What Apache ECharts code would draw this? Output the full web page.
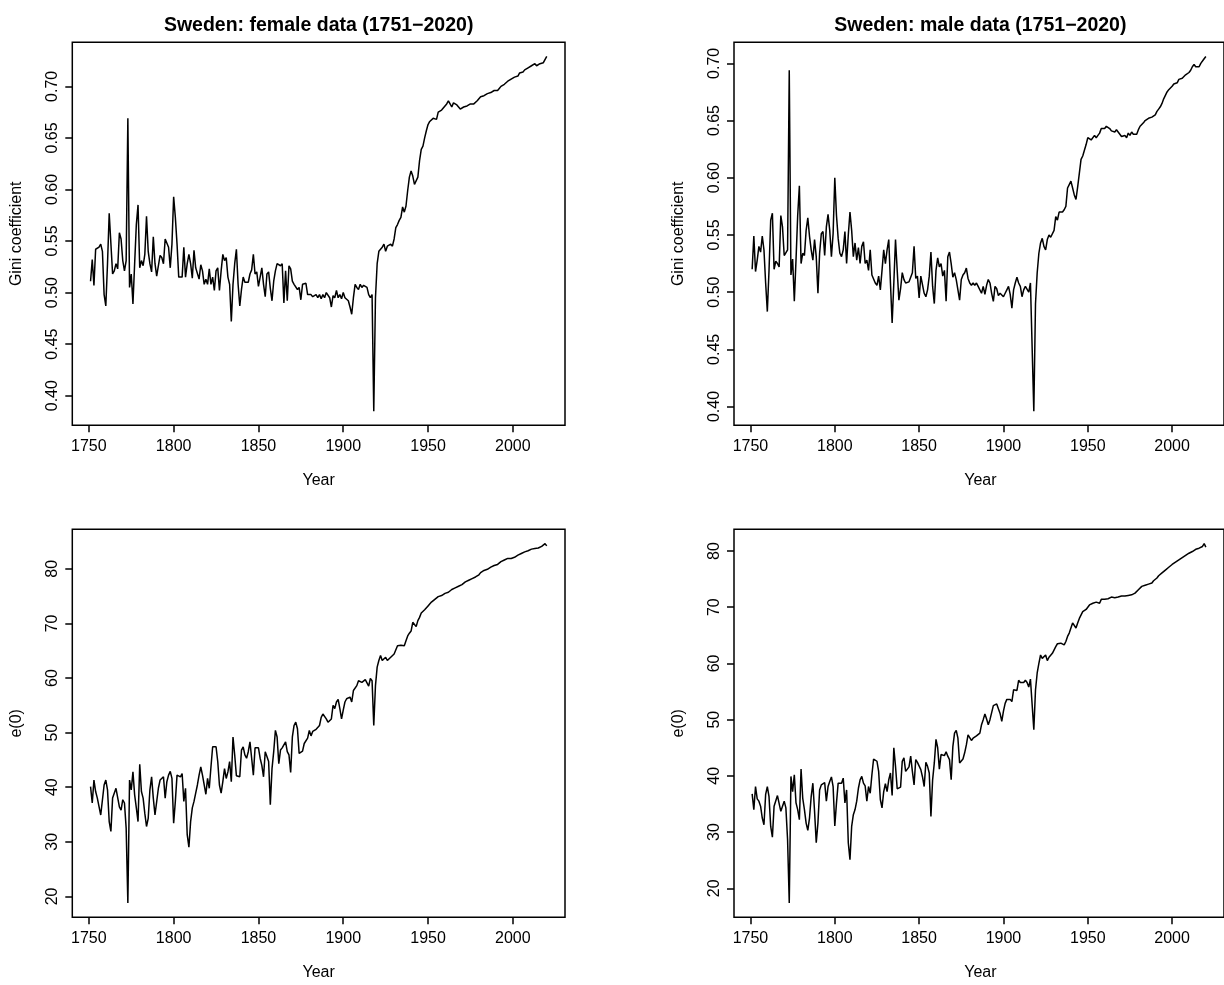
<!DOCTYPE html>
<html><head><meta charset="utf-8">
<script src="https://cdn.jsdelivr.net/npm/echarts@6/dist/echarts.min.js"></script>
<style>html,body{margin:0;padding:0;background:#fff}#c{width:1224px;height:985px}</style>
</head><body><div id="c"></div>
<script>
const firstYear = 1751, lastYear = 2020;
const yearTicks = [1750, 1800, 1850, 1900, 1950, 2000];
const giniTicks = [0.40, 0.45, 0.50, 0.55, 0.60, 0.65, 0.70];
const e0Ticks = [20, 30, 40, 50, 60, 70, 80];
const titles = ['Sweden: female data (1751\u22122020)', 'Sweden: male data (1751\u22122020)'];
const xName = 'Year';
const yNames = ['Gini coefficient', 'Gini coefficient', 'e(0)', 'e(0)'];

const giniFemale = [
0.511,0.532,0.507,0.542,0.543,0.544,0.547,0.540,0.498,0.487,
0.528,0.577,0.578,0.518,0.521,0.528,0.523,0.558,0.552,0.531,
0.521,0.531,0.669,0.505,0.518,0.489,0.528,0.566,0.585,0.524,
0.531,0.526,0.537,0.574,0.540,0.528,0.520,0.554,0.528,0.516,
0.516,0.536,0.534,0.528,0.552,0.553,0.544,0.524,0.547,0.593,
0.573,0.547,0.515,0.514,0.515,0.544,0.515,0.528,0.537,0.528,
0.514,0.541,0.524,0.524,0.513,0.527,0.521,0.508,0.513,0.508,
0.523,0.508,0.515,0.502,0.521,0.524,0.502,0.521,0.537,0.531,
0.534,0.515,0.508,0.472,0.508,0.528,0.542,0.508,0.487,0.503,
0.515,0.510,0.510,0.510,0.518,0.522,0.537,0.518,0.520,0.506,
0.515,0.524,0.508,0.496,0.518,0.520,0.504,0.492,0.511,0.521,
0.528,0.529,0.526,0.528,0.490,0.521,0.492,0.526,0.523,0.511,
0.508,0.507,0.503,0.505,0.493,0.508,0.507,0.509,0.498,0.497,
0.498,0.496,0.496,0.498,0.495,0.498,0.494,0.498,0.495,0.500,
0.501,0.495,0.486,0.497,0.495,0.502,0.495,0.498,0.494,0.500,
0.495,0.494,0.492,0.486,0.479,0.495,0.508,0.505,0.503,0.508,
0.505,0.507,0.508,0.505,0.498,0.495,0.498,0.385,0.495,0.528,
0.540,0.542,0.544,0.547,0.540,0.545,0.544,0.547,0.545,0.552,
0.563,0.566,0.570,0.573,0.583,0.578,0.584,0.599,0.612,0.618,
0.613,0.605,0.604,0.612,0.628,0.639,0.642,0.650,0.657,0.663,
0.666,0.667,0.669,0.670,0.668,0.675,0.676,0.677,0.679,0.680,
0.683,0.686,0.683,0.680,0.684,0.683,0.682,0.680,0.678,0.677,
0.680,0.679,0.681,0.680,0.683,0.684,0.683,0.684,0.686,0.688,
0.690,0.689,0.691,0.690,0.693,0.692,0.694,0.693,0.696,0.696,
0.696,0.698,0.700,0.699,0.702,0.703,0.705,0.705,0.707,0.706,
0.709,0.709,0.710,0.713,0.712,0.714,0.716,0.715,0.718,0.718,
0.720,0.719,0.722,0.720,0.721,0.722,0.723,0.723,0.724,0.729];

const giniMale = [
0.520,0.549,0.518,0.528,0.540,0.535,0.549,0.537,0.508,0.483,
0.519,0.563,0.569,0.520,0.527,0.525,0.522,0.567,0.557,0.532,
0.532,0.537,0.694,0.515,0.529,0.492,0.528,0.567,0.593,0.525,
0.534,0.532,0.554,0.565,0.549,0.537,0.528,0.546,0.531,0.499,
0.534,0.551,0.553,0.532,0.557,0.568,0.554,0.531,0.551,0.600,
0.567,0.547,0.534,0.531,0.537,0.553,0.525,0.550,0.570,0.554,
0.531,0.543,0.528,0.539,0.525,0.540,0.544,0.525,0.528,0.519,
0.537,0.515,0.515,0.508,0.506,0.514,0.502,0.519,0.537,0.525,
0.537,0.546,0.508,0.473,0.508,0.546,0.519,0.493,0.503,0.517,
0.511,0.508,0.508,0.509,0.508,0.517,0.540,0.512,0.514,0.495,
0.514,0.514,0.499,0.496,0.502,0.514,0.535,0.505,0.490,0.519,
0.530,0.522,0.525,0.514,0.519,0.492,0.531,0.535,0.525,0.513,
0.517,0.511,0.502,0.493,0.511,0.515,0.517,0.521,0.512,0.508,
0.506,0.508,0.506,0.508,0.505,0.506,0.499,0.505,0.498,0.506,
0.511,0.508,0.499,0.492,0.505,0.503,0.497,0.499,0.500,0.496,
0.499,0.502,0.505,0.498,0.486,0.502,0.508,0.513,0.508,0.505,
0.496,0.502,0.505,0.506,0.500,0.508,0.508,0.396,0.490,0.517,
0.534,0.543,0.547,0.540,0.537,0.546,0.550,0.548,0.547,0.554,
0.566,0.563,0.570,0.569,0.570,0.572,0.575,0.591,0.594,0.597,
0.591,0.585,0.581,0.592,0.604,0.616,0.619,0.620,0.629,0.635,
0.636,0.633,0.632,0.637,0.635,0.637,0.639,0.643,0.644,0.643,
0.645,0.646,0.643,0.641,0.642,0.640,0.642,0.640,0.639,0.636,
0.635,0.637,0.635,0.639,0.637,0.640,0.638,0.637,0.638,0.642,
0.645,0.646,0.648,0.650,0.651,0.652,0.651,0.653,0.653,0.655,
0.658,0.660,0.662,0.665,0.669,0.672,0.675,0.677,0.678,0.680,
0.682,0.683,0.683,0.686,0.686,0.687,0.688,0.690,0.691,0.692,
0.694,0.697,0.699,0.697,0.696,0.697,0.700,0.702,0.701,0.706];

const e0Female = [
40.1,37.1,41.3,39.2,38.0,37.7,34.9,34.6,40.4,41.3,
39.5,33.7,31.9,38.0,38.0,39.8,40.1,36.4,35.8,37.7,
37.1,32.5,18.8,41.3,39.5,42.8,38.6,36.2,33.7,44.2,
39.2,38.0,35.2,32.8,34.3,39.5,41.9,38.0,34.9,35.2,
39.8,41.3,41.0,41.9,38.0,41.0,42.2,42.9,41.6,33.4,
37.4,42.2,41.9,41.9,42.5,37.4,39.8,31.3,29.0,33.7,
36.2,37.4,38.9,40.4,42.2,43.7,42.2,41.9,38.7,41.6,
39.8,43.7,47.4,47.4,47.4,44.7,40.4,38.9,41.0,43.4,
41.6,42.8,44.7,41.0,49.2,45.9,42.1,41.9,41.9,46.8,
47.4,45.9,45.3,46.5,48.3,45.3,42.2,47.2,47.4,47.2,
45.3,44.0,41.9,46.5,45.6,44.7,36.8,43.4,46.5,50.4,
49.2,44.3,46.8,47.2,47.4,48.3,46.5,45.9,42.7,49.2,
51.3,51.9,50.7,46.2,46.5,46.6,48.0,48.3,49.0,50.4,
49.4,50.2,50.4,50.6,50.7,51.3,52.8,53.4,53.3,52.5,
51.9,52.2,52.5,55.0,54.4,55.6,56.1,54.4,52.5,54.1,
55.6,56.2,56.3,56.5,55.6,57.7,57.9,58.6,59.5,59.3,
59.2,59.5,59.7,59.5,58.5,59.9,59.5,51.3,58.6,62.0,
63.2,64.1,63.2,63.5,63.8,63.2,62.9,63.8,64.1,64.4,
64.7,65.9,66.1,66.0,65.8,65.9,66.8,67.7,68.2,68.6,
70.2,69.9,69.4,70.5,71.1,71.9,72.1,72.5,72.7,73.2,
73.5,73.9,74.1,74.4,74.7,74.9,74.9,75.1,75.1,75.5,
75.6,75.7,75.9,76.2,76.3,76.5,76.5,76.8,76.8,77.1,
77.4,77.6,77.7,77.9,78.0,78.2,78.5,78.5,78.8,78.9,
79.3,79.6,79.7,79.9,79.9,80.1,80.3,80.3,80.6,80.7,
80.8,81.1,81.3,81.5,81.6,81.7,81.9,81.9,81.9,82.1,
82.1,82.3,82.5,82.7,82.8,82.9,83.1,83.2,83.3,83.4,
83.6,83.6,83.7,83.9,83.8,84.0,84.1,84.1,84.6,84.2];

const e0Male = [
36.8,34.0,38.1,35.9,35.5,34.6,32.5,31.3,36.7,38.1,
36.3,31.0,29.1,34.6,34.3,36.5,36.3,33.7,34.0,35.5,
34.3,28.7,17.4,39.9,37.2,40.2,35.2,34.0,32.2,41.2,
36.0,34.0,31.6,30.3,32.5,36.3,38.7,33.7,28.1,31.6,
37.5,38.4,38.6,38.8,35.5,38.1,39.0,39.8,38.1,31.1,
35.2,38.7,38.6,38.7,39.6,35.2,37.5,28.1,25.1,31.0,
33.1,34.0,35.5,37.8,39.3,39.9,38.7,38.2,35.5,38.1,
36.9,40.2,43.0,42.9,42.6,40.8,35.8,34.3,37.2,38.6,
37.2,39.3,40.5,36.5,45.0,41.7,37.7,37.5,38.0,42.6,
43.2,40.8,40.8,41.6,43.5,40.8,38.4,42.9,42.4,42.3,
41.1,39.8,38.1,42.4,41.7,40.5,32.8,39.3,42.3,46.5,
45.0,41.2,43.8,43.6,43.6,44.3,43.5,42.9,39.3,45.2,
47.6,48.1,46.7,42.3,42.6,43.0,44.1,45.5,47.3,47.1,
46.3,46.7,47.0,47.1,47.3,47.6,49.1,50.0,51.0,50.1,
49.1,50.0,50.0,52.5,52.2,52.8,53.0,51.1,49.7,51.5,
52.9,53.6,53.8,53.6,53.2,55.3,55.4,55.2,57.0,56.6,
56.5,56.6,57.0,56.6,55.8,57.2,57.2,48.2,55.3,58.3,
60.0,61.5,60.9,61.2,61.5,60.5,61.1,61.3,61.8,62.1,
63.0,63.5,63.6,63.6,63.5,63.3,63.9,64.8,65.4,65.7,
67.2,67.4,66.3,67.2,68.0,68.3,69.2,69.4,69.6,70.0,
70.4,70.5,70.7,70.8,70.9,70.8,70.7,71.4,71.5,71.4,
71.3,71.5,71.6,71.8,71.7,71.7,71.6,71.8,71.8,72.0,
71.9,72.0,72.1,72.1,72.2,72.2,72.4,72.5,72.7,73.1,
73.4,73.7,73.8,73.9,74.0,74.1,74.1,74.3,74.7,75.0,
75.2,75.6,75.9,76.1,76.4,76.6,76.9,77.1,77.3,77.6,
77.8,78.0,78.2,78.4,78.6,78.8,79.0,79.2,79.4,79.6,
79.8,79.9,80.1,80.3,80.4,80.5,80.6,80.8,81.3,80.7];

const years = [];
for (let y = firstYear; y <= lastYear; y++) years.push(y);

// R-style axis range: data range extended by 4% on each side
function rRange(arr) {
  let lo = Math.min(...arr), hi = Math.max(...arr);
  const d = (hi - lo) * 0.04;
  return [lo - d, hi + d];
}

const FONT = '"Liberation Sans", Arial, Helvetica, sans-serif';
const FS = 16;
const panels = [
  { data: giniFemale, ticks: giniTicks, fmt: v => v.toFixed(2), left: 72.3, top: 42.3, height: 383 },
  { data: giniMale,   ticks: giniTicks, fmt: v => v.toFixed(2), left: 734,  top: 42.3, height: 383 },
  { data: e0Female,   ticks: e0Ticks,   fmt: v => String(v),    left: 72.3, top: 529.3, height: 388 },
  { data: e0Male,     ticks: e0Ticks,   fmt: v => String(v),    left: 734,  top: 529.3, height: 388 }
];
const W = 492.7;
const xr = rRange(years);

const grid = [], xAxis = [], yAxis = [], series = [], graphic = [];
panels.forEach((p, i) => {
  grid.push({ left: p.left, top: p.top, width: W, height: p.height, show: true,
    borderColor: '#000', borderWidth: 1.5, backgroundColor: 'transparent', containLabel: false });
  xAxis.push({ type: 'value', gridIndex: i, min: xr[0], max: xr[1],
    axisLine: { show: false },
    axisTick: { show: true, length: 7, customValues: yearTicks, lineStyle: { color: '#000', width: 1.5 } },
    axisLabel: { show: true, customValues: yearTicks, formatter: v => String(v), margin: 13,
      color: '#000', fontSize: FS, fontFamily: FONT },
    splitLine: { show: false } });
  const yr = rRange(p.data);
  yAxis.push({ type: 'value', gridIndex: i, min: yr[0], max: yr[1],
    axisLine: { show: false },
    axisTick: { show: true, length: 7, customValues: p.ticks, lineStyle: { color: '#000', width: 1.5 } },
    axisLabel: { show: true, customValues: p.ticks, formatter: p.fmt, rotate: 90, margin: 11.5,
      color: '#000', fontSize: FS, fontFamily: FONT },
    splitLine: { show: false } });
  series.push({ type: 'line', xAxisIndex: i, yAxisIndex: i, showSymbol: false, symbol: 'none',
    data: years.map((y, k) => [y, p.data[k]]),
    lineStyle: { color: '#000', width: 1.5 }, z: 3 });
  const cx = p.left + W / 2;
  const bottom = p.top + p.height;
  graphic.push({ type: 'text', x: cx, y: bottom + 55.7,
    style: { text: xName, fill: '#000', font: FS + 'px ' + FONT, align: 'center', verticalAlign: 'middle',
      textAlign: 'center', textVerticalAlign: 'middle' } });
  graphic.push({ type: 'text', x: p.left - 55.3, y: p.top + p.height / 2, rotation: Math.PI / 2,
    style: { text: yNames[i], fill: '#000', font: FS + 'px ' + FONT, align: 'center', verticalAlign: 'middle',
      textAlign: 'center', textVerticalAlign: 'middle' } });
  if (i < 2) {
    graphic.push({ type: 'text', x: cx, y: 26,
      style: { text: titles[i], fill: '#000', font: 'bold 19.5px ' + FONT, align: 'center', verticalAlign: 'middle',
        textAlign: 'center', textVerticalAlign: 'middle' } });
  }
});

const chart = echarts.init(document.getElementById('c'), null, { renderer: 'canvas', width: 1224, height: 985 });
chart.setOption({ backgroundColor: '#fff', animation: false, grid, xAxis, yAxis, series, graphic });
</script>
</body></html>
